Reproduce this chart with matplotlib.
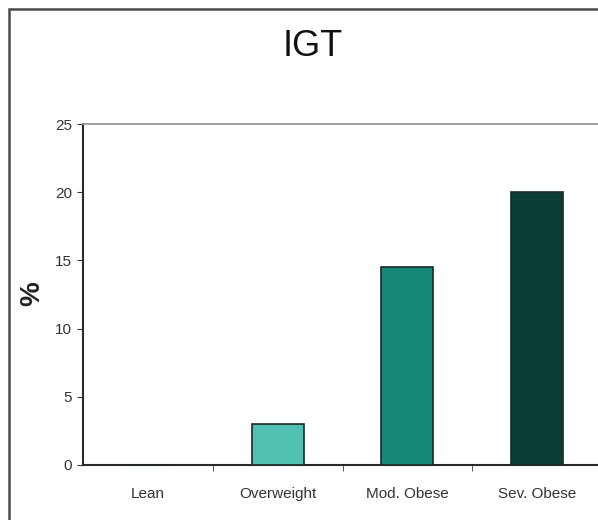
import matplotlib
matplotlib.use("Agg")
import matplotlib.pyplot as plt
from matplotlib.patches import Rectangle

categories = ["Lean", "Overweight", "Mod. Obese", "Sev. Obese"]
values = [0, 3, 14.5, 20]
colors = ["#8fd3ca", "#4fc0b2", "#15887a", "#0a3d33"]
yticks = [0, 5, 10, 15, 20, 25]

plt.rcParams['font.family'] = ['Liberation Sans', 'DejaVu Sans']

fig = plt.figure(figsize=(5.98, 5.2), dpi=100)
W, H = 598, 520
# outer frame
fig.patches.append(Rectangle((8.5 / W, -0.05), 1.1, 1 - 8.5 / H + 0.05, transform=fig.transFigure,
                             fill=False, edgecolor="#4a4a4a", linewidth=1.8))

ax = fig.add_axes([83 / W, 1 - 465 / H, (602 - 83) / W, (465 - 124) / H])
x = list(range(len(categories)))
ax.bar(x, values, width=0.4, color=colors, edgecolor="#1a2a26", linewidth=1.2, zorder=3)
ax.set_xlim(-0.5, 3.5)
ax.set_ylim(0, 25)
ax.set_yticks(yticks)
ax.set_yticklabels([str(v) for v in yticks], fontsize=11, color="#333333")
ax.set_xticks(x)
ax.set_xticklabels(categories, fontsize=11, color="#333333")
ax.tick_params(axis='x', length=0, pad=16)
ax.set_xticks([0.5, 1.5, 2.5], minor=True)
ax.tick_params(axis='x', which='minor', length=4, direction='out', color="#333333")
ax.tick_params(axis='y', length=4, direction='out', color="#333333", pad=4)
ax.spines['top'].set_color("#999999")
ax.spines['top'].set_linewidth(1.3)
ax.spines['right'].set_visible(False)
ax.spines['left'].set_color("#2a2a2a")
ax.spines['left'].set_linewidth(1.5)
ax.spines['bottom'].set_color("#2a2a2a")
ax.spines['bottom'].set_linewidth(1.5)
fig.text(32 / W, 1 - 294 / H, "%", fontsize=20, fontweight='bold', rotation=90,
         ha='center', va='center', color="#222222")
fig.text(313 / W, 1 - 47 / H, "IGT", fontsize=26, ha='center', va='center', color="#111111")

fig.savefig("out.png", dpi=100)
